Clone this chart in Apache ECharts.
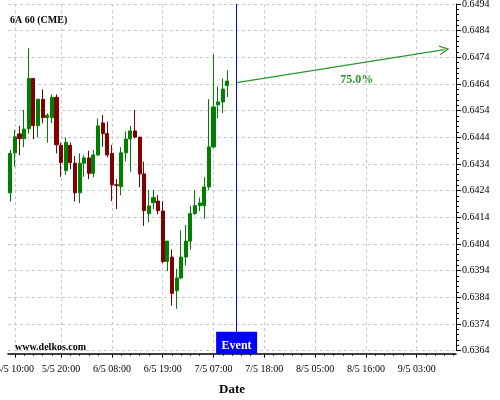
<!DOCTYPE html>
<html><head><meta charset="utf-8">
<script src="https://cdn.jsdelivr.net/npm/echarts@6/dist/echarts.min.js"></script>
<style>html,body{margin:0;padding:0;background:#fff}#c{width:500px;height:400px}</style>
</head><body><div id="c"></div>
<script>
const titleText = '6A 60 (CME)';
const siteText = 'www.delkos.com';
const axisName = 'Date';
const slotCount = 97;
const tickSlots = [1, 11, 22, 33, 44, 55, 66, 77, 88];
const tickLabels = ['5/5 10:00', '5/5 20:00', '6/5 08:00', '6/5 19:00', '7/5 07:00', '7/5 18:00', '8/5 05:00', '8/5 16:00', '9/5 03:00'];
const yMin = 0.6364, yMax = 0.6494, yStep = 0.001;

const opens  = [0.64232,0.64382,0.64453,0.64435,0.64472,0.64661,0.64484,0.64583,0.64514,0.64514,0.64590,0.64410,0.64315,0.64410,0.64343,0.64232,0.64343,0.64363,0.64305,0.64374,0.64494,0.64454,0.64380,0.64262,0.64255,0.64382,0.64434,0.64464,0.64441,0.64303,0.64154,0.64195,0.64201,0.64164,0.63974,0.63991,0.63865,0.63913,0.63991,0.64051,0.64154,0.64184,0.64184,0.64254,0.64404,0.64562,0.64573,0.64634];
const closes = [0.64380,0.64442,0.64435,0.64471,0.64661,0.64484,0.64583,0.64514,0.64523,0.64590,0.64412,0.64345,0.64421,0.64345,0.64232,0.64343,0.64363,0.64305,0.64374,0.64483,0.64454,0.64374,0.64262,0.64260,0.64382,0.64434,0.64464,0.64441,0.64303,0.64165,0.64183,0.64214,0.64165,0.63974,0.64051,0.63855,0.63913,0.63991,0.64051,0.64154,0.64184,0.64194,0.64254,0.64404,0.64554,0.64573,0.64621,0.64651];
const lows   = [0.64199,0.64330,0.64373,0.64403,0.64453,0.64433,0.64440,0.64493,0.64420,0.64493,0.64380,0.64292,0.64299,0.64320,0.64199,0.64193,0.64292,0.64283,0.64290,0.64371,0.64405,0.64365,0.64201,0.64171,0.64223,0.64350,0.64311,0.64436,0.64253,0.64108,0.64121,0.64171,0.64151,0.63969,0.63939,0.63809,0.63797,0.63908,0.63960,0.64020,0.64149,0.64163,0.64134,0.64243,0.64400,0.64511,0.64531,0.64591];
const highs  = [0.64393,0.64468,0.64483,0.64543,0.64774,0.64661,0.64583,0.64620,0.64530,0.64601,0.64601,0.64420,0.64440,0.64420,0.64370,0.64380,0.64373,0.64390,0.64393,0.64511,0.64524,0.64499,0.64411,0.64283,0.64403,0.64463,0.64483,0.64543,0.64441,0.64349,0.64243,0.64243,0.64223,0.64201,0.64051,0.64020,0.63947,0.64091,0.64111,0.64184,0.64241,0.64214,0.64291,0.64583,0.64751,0.64631,0.64661,0.64691];

const eventSlot = 49;
const eventLabel = 'Event';
const projStart = [49, 0.64645];
const projEnd = [94, 0.64769];
const projLabel = '75.0%';
const projLabelAt = [75, 0.64655];

const serif = "'Liberation Serif','Times New Roman',serif";
const categories = [];
for (let i = 0; i < slotCount; i++) categories.push(String(i));
const candleData = opens.map((o, i) => [o, closes[i], lows[i], highs[i]]);
const minorSlots = [];
tickSlots.forEach(m => { for (let k = 2; k <= 8; k += 2) if (m + k < slotCount) minorSlots.push(m + k); });
const isMajor = (i) => tickSlots.indexOf(i) >= 0;
const isMinor = (i) => minorSlots.indexOf(i) >= 0;

const chart = echarts.init(document.getElementById('c'), null, {renderer: 'canvas'});
chart.setOption({
  animation: false,
  backgroundColor: '#fff',
  title: [
    {text: titleText, left: 10, top: 15, padding: 0, textStyle: {fontFamily: serif, fontSize: 10, fontWeight: 'bold', color: '#000'}},
    {text: siteText, left: 15, top: 342, padding: 0, textStyle: {fontFamily: serif, fontSize: 10, fontWeight: 'bold', color: '#000'}}
  ],
  grid: {left: 8, right: 44, top: 4, bottom: 49.3, containLabel: false, outerBoundsMode: 'none'},
  xAxis: [{
    type: 'category', data: categories, boundaryGap: true, position: 'bottom', offset: 3,
    name: axisName, nameLocation: 'middle', nameGap: 29,
    nameTextStyle: {fontFamily: serif, fontSize: 13, fontWeight: 'bold', color: '#000'},
    axisLine: {show: true, lineStyle: {color: '#000', width: 1.6}},
    axisTick: {show: true, alignWithLabel: true, length: 4, interval: (i) => isMajor(i), lineStyle: {color: '#000'}},
    axisLabel: {show: true, interval: (i) => isMajor(i), margin: 11, fontFamily: serif, fontSize: 10, color: '#000',
      hideOverlap: false,
      formatter: (v, i) => { const k = tickSlots.indexOf(Number(v)); return k >= 0 ? tickLabels[k] : ''; }},
    splitLine: {show: true, alignWithLabel: true, interval: (i) => isMajor(i), lineStyle: {color: '#c8c8c8', type: [3, 3], width: 1}}
  }, {
    type: 'category', data: categories, boundaryGap: true, position: 'bottom', offset: 3, gridIndex: 0,
    axisLine: {show: false},
    axisTick: {show: true, alignWithLabel: true, length: 2, interval: (i) => isMinor(i), lineStyle: {color: '#000'}},
    axisLabel: {show: false},
    splitLine: {show: false}
  }],
  yAxis: {
    type: 'value', position: 'right', min: yMin, max: yMax, interval: yStep,
    axisLine: {show: true, lineStyle: {color: '#000', width: 1}},
    axisTick: {show: true, length: 5, lineStyle: {color: '#000'}},
    minorTick: {show: true, splitNumber: 5, length: 3, lineStyle: {color: '#000'}},
    axisLabel: {margin: 6, fontFamily: serif, fontSize: 10, color: '#000', formatter: (v) => v.toFixed(4)},
    splitLine: {show: true, lineStyle: {color: '#c8c8c8', type: [3, 3], width: 1}}
  },
  series: [{
    type: 'candlestick', xAxisIndex: 0, yAxisIndex: 0, data: candleData, barWidth: '78%',
    itemStyle: {color: '#008000', color0: '#800000', borderColor: '#008000', borderColor0: '#800000', borderWidth: 1},
    markLine: {
      silent: true, symbol: ['none', 'none'], animation: false,
      label: {show: false},
      lineStyle: {color: '#0000ff', width: 1, type: 'solid'},
      data: [{xAxis: eventSlot}]
    }
  }, {
    type: 'line', xAxisIndex: 0, yAxisIndex: 0, data: [],
    markLine: {
      silent: true, animation: false, symbol: ['none', 'path://M5,0 L10,10 L8.6,10 L5,2.8 L1.4,10 L0,10 Z'], symbolSize: 10,
      label: {show: false},
      lineStyle: {color: '#2a962a', width: 1.3, type: 'solid'},
      data: [[{coord: projStart}, {coord: projEnd}]]
    },
    markPoint: {
      silent: true, animation: false,
      data: [
        {coord: [eventSlot, yMin], symbol: 'rect', symbolSize: [41, 22], symbolOffset: [0, -8],
          itemStyle: {color: '#0000ff'},
          label: {show: true, position: 'inside', offset: [0, 3], formatter: eventLabel, color: '#fff', fontFamily: serif, fontSize: 12, fontWeight: 'bold'}},
        {coord: projLabelAt, symbol: 'rect', symbolSize: 1, itemStyle: {color: 'rgba(0,0,0,0)'},
          label: {show: true, position: 'inside', formatter: projLabel, color: '#2a962a', fontFamily: serif, fontSize: 12, fontWeight: 'bold'}}
      ]
    }
  }]
});
</script></body></html>
